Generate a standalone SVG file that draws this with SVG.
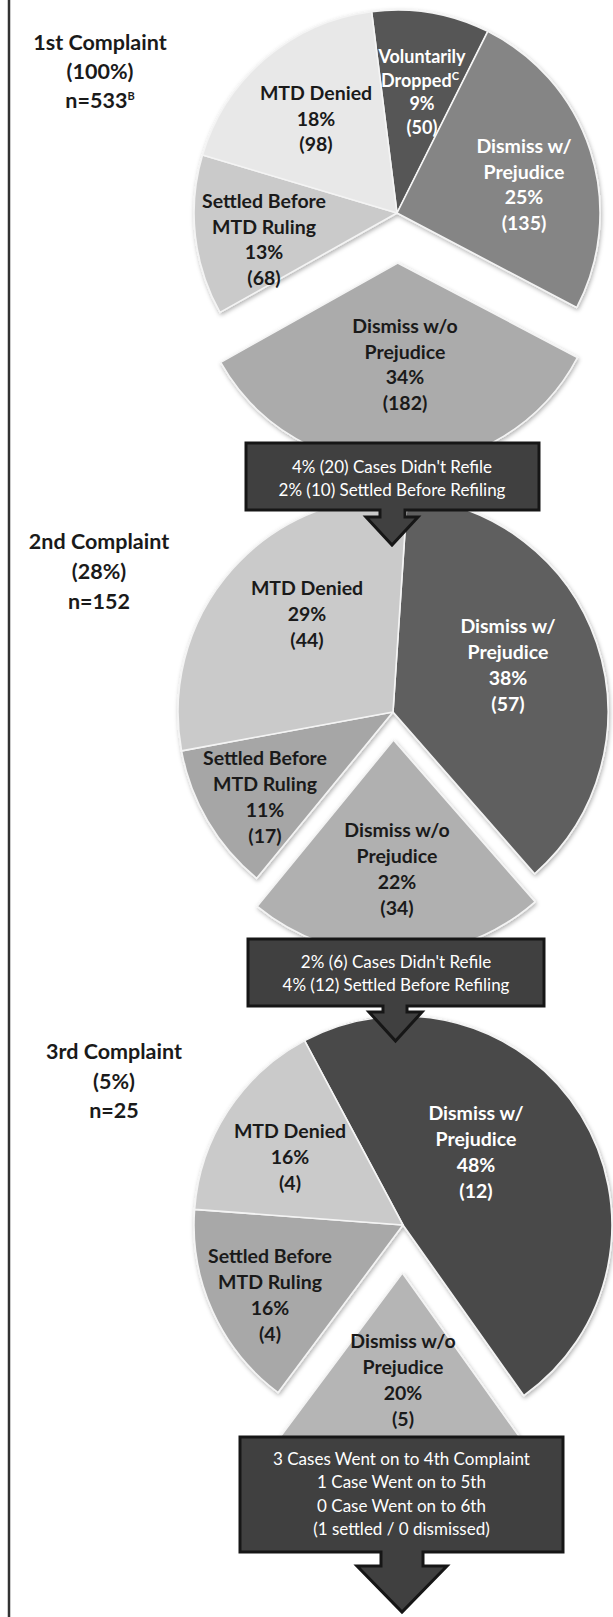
<svg xmlns="http://www.w3.org/2000/svg" width="613" height="1617" viewBox="0 0 613 1617">
  <style>
    .t { font-family: Lato, "Liberation Sans", sans-serif; font-weight: bold; text-anchor: middle; }
    .title { font-size: 21.5px; fill: #1a1a1a; }
    .lbl { font-size: 19.5px; fill: #1a1a1a; }
    .sm { font-size: 18px; }
    .w { fill: #ffffff; }
    .btxt { font-family: Lato, "Liberation Sans", sans-serif; font-weight: normal; font-size: 17px; fill: #ffffff; text-anchor: middle; }
    .slice { stroke: #f4f4f4; stroke-width: 1.6; stroke-linejoin: round; }
    .callout { fill: #404040; stroke: #161616; stroke-width: 3; stroke-linejoin: miter; }
    .sup { font-size: 11px; }
  </style>
  <defs>
    <filter id="shadow" x="-10%" y="-10%" width="120%" height="120%">
      <feDropShadow dx="1" dy="2" stdDeviation="2" flood-color="#000" flood-opacity="0.3"/>
    </filter>
  </defs>
  <rect width="613" height="1617" fill="#ffffff"/>
  <line x1="9" y1="0" x2="9" y2="1617" stroke="#333" stroke-width="2.5"/>

  <!-- Titles -->
  <g id="title1" class="t title">
    <text x="100" y="50">1st Complaint</text>
    <text x="100" y="79">(100%)</text>
    <text x="100" y="108">n=533<tspan class="sup" dy="-8">B</tspan></text>
  </g>
  <g id="title2" class="t title">
    <text x="99" y="549">2nd Complaint</text>
    <text x="99" y="579">(28%)</text>
    <text x="99" y="609">n=152</text>
  </g>
  <g id="title3" class="t title">
    <text x="114" y="1059">3rd Complaint</text>
    <text x="114" y="1089">(5%)</text>
    <text x="114" y="1118">n=25</text>
  </g>

  <!-- Pie 1 -->
  <g id="pie1" filter="url(#shadow)">
    <path id="p1-vol" class="slice" fill="#575757" d="M397,213 L371.6,11.6 A203,203 0 0 1 487.8,31.4 Z"/>
    <path id="p1-dwp" class="slice" fill="#858585" d="M397,213 L487.8,31.4 A203,203 0 0 1 576.7,307.5 Z"/>
    <path id="p1-dwop" class="slice" fill="#ababab" d="M397.7,263 L577.4,357.5 A203,203 0 0 1 220.7,362.4 Z"/>
    <path id="p1-set" class="slice" fill="#cacaca" d="M397,213 L220,312.4 A203,203 0 0 1 202.5,155 Z"/>
    <path id="p1-mtd" class="slice" fill="#e8e8e8" d="M397,213 L202.5,155 A203,203 0 0 1 371.6,11.6 Z"/>
  </g>
  <g id="pie1-labels" class="t lbl">
    <text class="w sm" x="422" y="63">Voluntarily</text>
    <text class="w sm" x="420" y="86.5">Dropped<tspan class="sup" dy="-7">C</tspan></text>
    <text class="w sm" x="422" y="110">9%</text>
    <text class="w sm" x="422" y="133.5">(50)</text>
    <text x="316" y="100">MTD Denied</text>
    <text x="316" y="125.5">18%</text>
    <text x="316" y="151">(98)</text>
    <text class="w" x="524" y="153">Dismiss w/</text>
    <text class="w" x="524" y="178.5">Prejudice</text>
    <text class="w" x="524" y="204">25%</text>
    <text class="w" x="524" y="229.5">(135)</text>
    <text x="264" y="208">Settled Before</text>
    <text x="264" y="233.5">MTD Ruling</text>
    <text x="264" y="259">13%</text>
    <text x="264" y="284.5">(68)</text>
    <text x="405" y="333">Dismiss w/o</text>
    <text x="405" y="358.5">Prejudice</text>
    <text x="405" y="384">34%</text>
    <text x="405" y="409.5">(182)</text>
  </g>

  <!-- Pie 2 -->
  <g id="pie2" filter="url(#shadow)">
    <path id="p2-dwp" class="slice" fill="#5f5f5f" d="M393,712 L407.25,497.47 A215,215 0 0 1 534.62,873.77 Z"/>
    <path id="p2-dwop" class="slice" fill="#b0b0b0" d="M393.5,740 L535.1,901.8 A215,215 0 0 1 257.2,906.3 Z"/>
    <path id="p2-set" class="slice" fill="#a6a6a6" d="M393,712 L256.73,878.3 A215,215 0 0 1 181.54,750.84 Z"/>
    <path id="p2-mtd" class="slice" fill="#cacaca" d="M393,712 L181.54,750.84 A215,215 0 0 1 407.25,497.47 Z"/>
  </g>
  <g id="pie2-labels" class="t lbl">
    <text x="307" y="595">MTD Denied</text>
    <text x="307" y="621">29%</text>
    <text x="307" y="647">(44)</text>
    <text class="w" x="508" y="633">Dismiss w/</text>
    <text class="w" x="508" y="659">Prejudice</text>
    <text class="w" x="508" y="685">38%</text>
    <text class="w" x="508" y="711">(57)</text>
    <text x="265" y="765">Settled Before</text>
    <text x="265" y="791">MTD Ruling</text>
    <text x="265" y="817">11%</text>
    <text x="265" y="843">(17)</text>
    <text x="397" y="837">Dismiss w/o</text>
    <text x="397" y="863">Prejudice</text>
    <text x="397" y="889">22%</text>
    <text x="397" y="915">(34)</text>
  </g>

  <!-- Pie 3 -->
  <g id="pie3" filter="url(#shadow)">
    <path id="p3-dwp" class="slice" fill="#4a4a4a" d="M403,1225 L304.57,1040.63 A209,209 0 0 1 523.77,1395.57 Z"/>
    <path id="p3-dwop" class="slice" fill="#b5b5b5" d="M402.4,1273 L524.2,1443.6 A209,209 0 0 1 277.5,1440.6 Z"/>
    <path id="p3-set" class="slice" fill="#a8a8a8" d="M403,1225 L278.1,1392.57 A209,209 0 0 1 194.59,1209.33 Z"/>
    <path id="p3-mtd" class="slice" fill="#cacaca" d="M403,1225 L194.59,1209.33 A209,209 0 0 1 304.57,1040.63 Z"/>
  </g>
  <g id="pie3-labels" class="t lbl">
    <text x="290" y="1138">MTD Denied</text>
    <text x="290" y="1164">16%</text>
    <text x="290" y="1190">(4)</text>
    <text class="w" x="476" y="1120">Dismiss w/</text>
    <text class="w" x="476" y="1146">Prejudice</text>
    <text class="w" x="476" y="1172">48%</text>
    <text class="w" x="476" y="1198">(12)</text>
    <text x="270" y="1263">Settled Before</text>
    <text x="270" y="1289">MTD Ruling</text>
    <text x="270" y="1315">16%</text>
    <text x="270" y="1341">(4)</text>
    <text x="403" y="1348">Dismiss w/o</text>
    <text x="403" y="1374">Prejudice</text>
    <text x="403" y="1400">20%</text>
    <text x="403" y="1426">(5)</text>
  </g>

  <!-- Connectors: down-arrow callouts -->
  <g id="connectors">
    <g id="callout1">
      <path class="callout" d="M246,443 H539 V510 H405 V517 H418 L392,545 L366,517 H380 V510 H246 Z"/>
      <text class="btxt" x="392" y="473">4% (20) Cases Didn't Refile</text>
      <text class="btxt" x="392" y="496">2% (10) Settled Before Refiling</text>
    </g>
    <g id="callout2">
      <path class="callout" d="M248,939 H544 V1006 H407 V1012 H422 L395.5,1041 L369,1012 H383 V1006 H248 Z"/>
      <text class="btxt" x="396" y="968">2% (6) Cases Didn't Refile</text>
      <text class="btxt" x="396" y="991">4% (12) Settled Before Refiling</text>
    </g>
    <g id="callout3">
      <path class="callout" d="M240,1437 H563 V1552 H423 V1566 H447 L402,1612 L357,1566 H381 V1552 H240 Z"/>
      <text class="btxt" x="401.5" y="1465">3 Cases Went on to 4th Complaint</text>
      <text class="btxt" x="401.5" y="1488">1 Case Went on to 5th</text>
      <text class="btxt" x="401.5" y="1512">0 Case Went on to 6th</text>
      <text class="btxt" x="401.5" y="1535">(1 settled / 0 dismissed)</text>
    </g>
  </g>
</svg>
